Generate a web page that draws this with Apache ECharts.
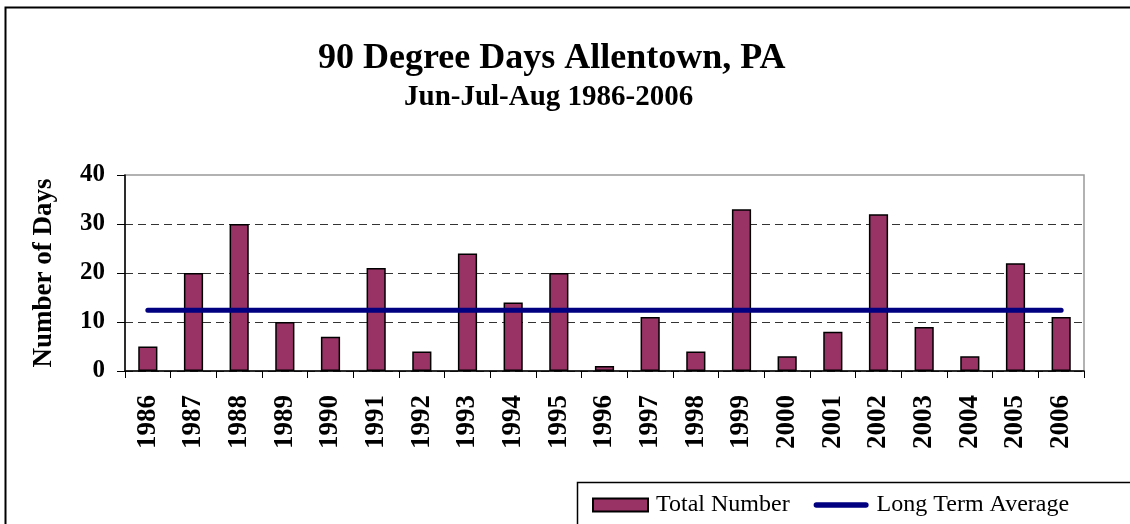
<!DOCTYPE html>
<html>
<head>
<meta charset="utf-8">
<script src="https://cdn.jsdelivr.net/npm/echarts@6/dist/echarts.min.js"></script>
<style>
html,body{margin:0;padding:0;background:#fff;}
#chart{width:1130px;height:524px;}
</style>
</head>
<body>
<div id="chart"></div>
<script>
const years = ['1986','1987','1988','1989','1990','1991','1992','1993','1994','1995','1996','1997','1998','1999','2000','2001','2002','2003','2004','2005','2006'];
const totalNumber = [5,20,30,10,7,21,4,24,14,20,1,11,4,33,3,8,32,9,3,22,11];
const longTermAverage = [12.4,12.4,12.4,12.4,12.4,12.4,12.4,12.4,12.4,12.4,12.4,12.4,12.4,12.4,12.4,12.4,12.4,12.4,12.4,12.4,12.4];
const yTicks = [0,10,20,30,40];

const serif = '"Liberation Serif", "Times New Roman", serif';
const chart = echarts.init(document.getElementById('chart'), null, {renderer:'canvas'});
chart.setOption({
  animation: false,
  backgroundColor: '#fff',
  title: [
    {text: '90 Degree Days Allentown, PA', left: 313, top: 36,
     textStyle: {fontFamily: serif, fontWeight: 'bold', fontSize: 36, color: '#000'}},
    {text: 'Jun-Jul-Aug 1986-2006', left: 399, top: 78,
     textStyle: {fontFamily: serif, fontWeight: 'bold', fontSize: 29, color: '#000'}}
  ],
  graphic: [
    {type: 'rect', left: 3, top: 5, shape: {width: 1200, height: 600}, silent: true, z: -1,
     style: {fill: 'none', stroke: '#000', lineWidth: 2}},
    {type: 'rect', left: 575, top: 480, shape: {width: 600, height: 100}, silent: true, z: -1,
     style: {fill: 'none', stroke: '#000', lineWidth: 1.5}}
  ],
  legend: {
    left: 592, top: 493, padding: 0,
    itemWidth: 55, itemHeight: 13, itemGap: 24,
    textStyle: {fontFamily: serif, fontSize: 24, color: '#000', padding: [0,0,0,3]},
    data: [
      {name: 'Total Number', icon: 'rect'},
      {name: 'Long Term Average', icon: 'path://M5,0H95A5,5 0 0 1 95,10H5A5,5 0 0 1 5,0Z'}
    ]
  },
  grid: {left: 125, right: 46, top: 175, bottom: 153, show: true, borderColor: '#999', borderWidth: 1.5, containLabel: false},
  xAxis: {
    type: 'category', data: years, boundaryGap: true,
    axisLine: {lineStyle: {color: '#000', width: 1.5}},
    axisTick: {show: true, length: 7, lineStyle: {color: '#000', width: 1}},
    axisLabel: {rotate: 90, margin: 24, fontFamily: serif, fontWeight: 'bold', fontSize: 27, color: '#000'}
  },
  yAxis: {
    type: 'value', min: 0, max: 40, interval: 10,
    name: 'Number of Days', nameLocation: 'middle', nameGap: 67, nameRotate: 90,
    nameTextStyle: {fontFamily: serif, fontWeight: 'bold', fontSize: 27, color: '#000'},
    axisLine: {show: true, lineStyle: {color: '#000', width: 1.5}},
    axisTick: {show: true, length: 8, lineStyle: {color: '#000'}},
    axisLabel: {margin: 20, fontFamily: serif, fontWeight: 'bold', fontSize: 25, color: '#000',
      formatter: v => yTicks.includes(v) ? String(v) : ''},
    splitLine: {show: true, showMaxLine: false, lineStyle: {color: '#333', width: 1, type: [8,5]}}
  },
  series: [
    {name: 'Total Number', type: 'bar', data: totalNumber, barWidth: '42%',
     itemStyle: {color: '#993366', borderColor: '#000', borderWidth: 1.5}},
    {name: 'Long Term Average', type: 'line', data: longTermAverage, symbol: 'none',
     lineStyle: {color: '#000080', width: 5, cap: 'round'}, itemStyle: {color: '#000080'}, z: 3}
  ]
});
</script>
</body>
</html>
